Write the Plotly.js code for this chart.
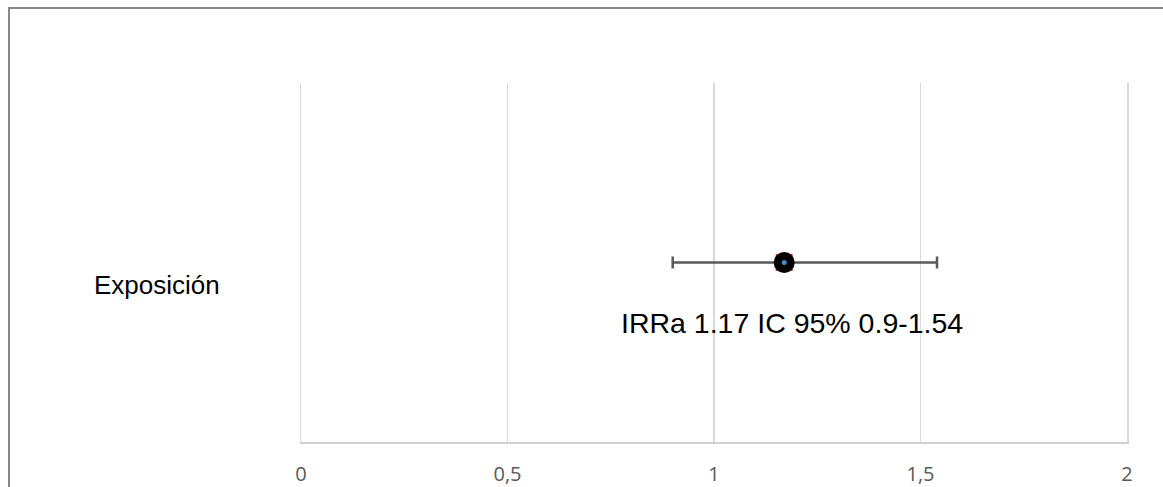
<!DOCTYPE html>
<html>
<head>
<meta charset="utf-8">
<script src="https://cdn.plot.ly/plotly-3.0.1.min.js"></script>
<style>html,body{margin:0;padding:0;background:#fff;}#chart{width:1163px;height:487px;}</style>
</head>
<body>
<div id="chart"></div>
<script>
var categories = ['Exposición'];
var irr = [1.17];
var ciLow = [0.9];
var ciHigh = [1.54];
var yPos = [0.5];
var xTicks = [0, 0.5, 1, 1.5, 2];
var xTickText = ['0', '0,5', '1', '1,5', '2'];
var labelText = ['IRRa 1.17 IC 95% 0.9-1.54'];

var plus = irr.map(function (v, i) { return ciHigh[i] - v; });
var minus = irr.map(function (v, i) { return v - ciLow[i]; });

var traces = [
  {
    x: irr, y: yPos, type: 'scatter', mode: 'markers',
    marker: {symbol: 'square', size: 17, color: '#e0473f'},
    error_x: {type: 'data', symmetric: false, array: plus, arrayminus: minus,
              color: '#595959', thickness: 2.5, width: 6},
    hoverinfo: 'skip'
  },
  {
    x: irr, y: yPos, type: 'scatter', mode: 'markers',
    marker: {symbol: 'circle', size: 21, color: '#000000'}, hoverinfo: 'skip'
  },
  {
    x: irr, y: yPos, type: 'scatter', mode: 'markers',
    marker: {symbol: 'circle', size: 5, color: '#4f86c6'}, hoverinfo: 'skip'
  }
];

var annotations = [];
categories.forEach(function (c, i) {
  annotations.push({xref: 'paper', yref: 'y', x: -0.1743, y: yPos[i], yshift: -22,
    text: c, showarrow: false, xanchor: 'center', yanchor: 'middle',
    font: {family: 'Liberation Sans, Arial', size: 26, color: '#000'}});
  annotations.push({xref: 'x', yref: 'y', x: irr[i], y: yPos[i], xshift: 8, yshift: -60,
    text: labelText[i], showarrow: false, xanchor: 'center', yanchor: 'middle',
    font: {family: 'Liberation Sans, Arial', size: 28.5, color: '#000'}});
});

var layout = {
  width: 1163, height: 487,
  margin: {l: 301, r: 36, t: 83, b: 45},
  paper_bgcolor: '#ffffff', plot_bgcolor: '#ffffff',
  showlegend: false,
  xaxis: {
    range: [0, 2], tickvals: xTicks, ticktext: xTickText,
    showgrid: true, gridcolor: '#d9d9d9', gridwidth: 1.5,
    zeroline: false, showline: true, linecolor: '#d0d0d0', linewidth: 1.5,
    ticks: '', ticklabelstandoff: 13,
    tickfont: {family: 'Open Sans', size: 20, color: '#595959'}
  },
  yaxis: {
    range: [0, 1], showgrid: false, zeroline: false,
    showline: true, mirror: true, linecolor: '#d9d9d9', linewidth: 1.5,
    showticklabels: false, ticks: ''
  },
  annotations: annotations,
  shapes: [{
    type: 'rect', xref: 'paper', yref: 'paper',
    x0: -0.3535, x1: 1.2, y0: -0.4, y1: 1.2089,
    line: {color: '#878787', width: 2}, fillcolor: 'rgba(0,0,0,0)', layer: 'below'
  }]
};

Plotly.newPlot('chart', traces, layout, {staticPlot: true, displayModeBar: false});
</script>
</body>
</html>
